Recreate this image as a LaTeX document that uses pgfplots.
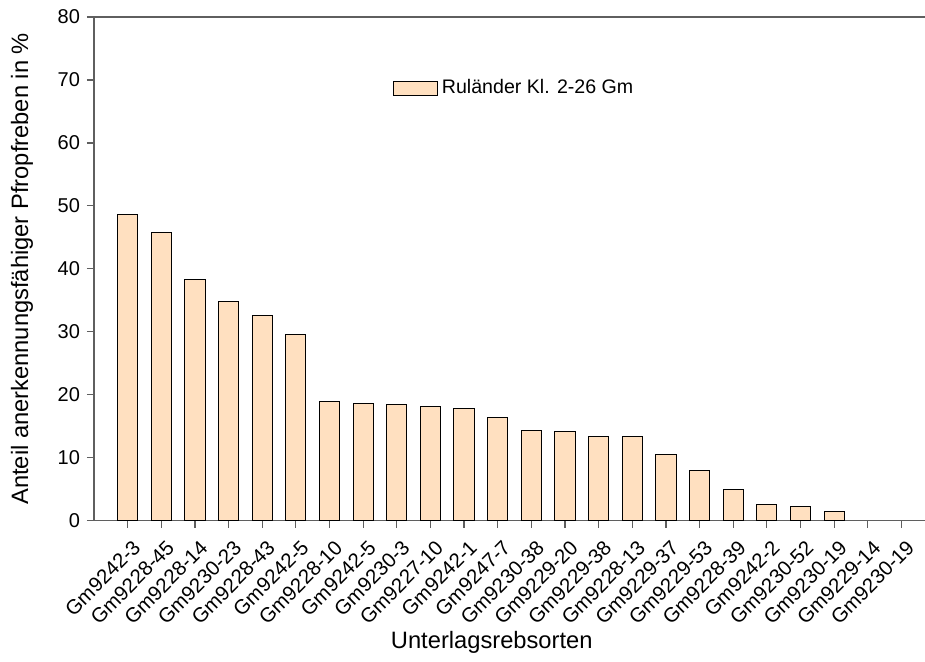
\documentclass[border=0pt]{standalone}
\usepackage{pgfplots}
\pgfplotsset{compat=1.18}
\usepackage{fontspec}
\setmainfont{Liberation Sans}
\definecolor{barfill}{RGB}{255,224,192}
\definecolor{axisgray}{RGB}{95,95,95}
\begin{document}
\begin{tikzpicture}
\begin{axis}[
  scale only axis, width=415.5pt, height=251.85pt,
  xmin=-1, xmax=23.7, ymin=0, ymax=80,
  axis x line*=box, axis y line*=left,
  xtick pos=left, ytick pos=left,
  axis line style={axisgray, line width=0.6pt},
  tick style={axisgray, line width=0.6pt},
  tick align=outside, major tick length=3.5pt,
  ytick={0,10,...,80},
  xtick={0,...,23},
  xticklabels={Gm9242-3,Gm9228-45,Gm9228-14,Gm9230-23,Gm9228-43,Gm9242-5,Gm9228-10,Gm9242-5,Gm9230-3,Gm9227-10,Gm9242-1,Gm9247-7,Gm9230-38,Gm9229-20,Gm9229-38,Gm9228-13,Gm9229-37,Gm9229-53,Gm9228-39,Gm9242-2,Gm9230-52,Gm9230-19,Gm9229-14,Gm9230-19},
  xticklabel style={rotate=45, anchor=north east, inner sep=1pt, xshift=-1.4pt, yshift=-4.2pt, font=\fontsize{10.2}{12}\selectfont},
  yticklabel style={font=\fontsize{10}{12}\selectfont},
  /pgf/number format/assume math mode=true,
  xlabel={Unterlagsrebsorten},
  ylabel={Anteil anerkennungsfähiger Pfropfreben in \%},
  label style={font=\fontsize{11.85}{14}\selectfont},
  xlabel style={at={(axis description cs:0.4786,-0.241)}, anchor=center},
  ylabel style={at={(axis description cs:-0.0866,0.5)}, anchor=center, rotate=0},
  legend style={at={(axis description cs:0.352,0.859)}, anchor=west, draw=none, fill=none, font=\fontsize{9.8}{12}\selectfont},
  legend image code/.code={\draw[#1] (0pt,-3.5pt) rectangle (22pt,3.5pt);},
]
\addplot[ybar, bar width=0.6, fill=barfill, draw=black, line width=0.5pt] coordinates {
(0,48.7) (1,45.8) (2,38.35) (3,34.8) (4,32.6) (5,29.55) (6,19.0) (7,18.6)
(8,18.5) (9,18.1) (10,17.85) (11,16.4) (12,14.3) (13,14.1) (14,13.45) (15,13.3)
(16,10.45) (17,7.9) (18,5.0) (19,2.6) (20,2.2) (21,1.43)
};
\addlegendentry{Ruländer Kl. 2-26 Gm}
\end{axis}
\pgfresetboundingbox
\path[use as bounding box] ([shift={(-47pt,-70.65pt)}]current axis.south west) rectangle ([shift={(0pt,8.5pt)}]current axis.north east);
\end{tikzpicture}
\end{document}
